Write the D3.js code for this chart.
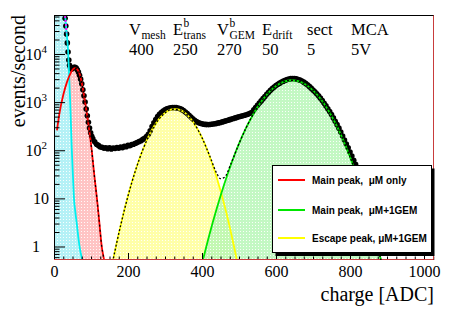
<!DOCTYPE html>
<html>
<head>
<meta charset="utf-8">
<script src="https://cdn.jsdelivr.net/npm/d3@7"></script>
<style>
body { margin: 0; background: #fff; }
svg { display: block; }
</style>
</head>
<body>
<div id="chart"></div>
<script>
// measured spectrum (black points)
var dataX = [28, 30, 32, 34, 36, 38, 40, 42, 45, 48, 51, 54, 57, 60, 63, 66, 69, 72, 75, 78, 81, 84, 87, 90, 93, 96, 99, 102, 105,
    110, 115, 120, 125, 130, 135, 140, 145, 150, 155, 160, 165, 170, 175, 180, 185, 190, 195, 200, 205, 210, 215, 220, 225,
    230, 235, 240, 245, 250, 255, 260, 265, 270, 275, 280, 285, 290, 295, 300, 305, 310, 315, 320, 325, 330, 335, 340, 345,
    350, 355, 360, 365, 370, 375, 380, 385, 390, 395, 400, 405, 410, 415, 420, 425, 430, 435, 440, 445, 450, 455, 460, 465,
    470, 475, 480, 485, 490, 495, 500, 505, 510, 515, 520, 525, 530, 535, 540, 545, 550, 555, 560, 565, 570, 575, 580, 585,
    590, 595, 600, 605, 610, 615, 620, 625, 630, 635, 640, 645, 650, 655, 660, 665, 670, 675, 680, 685, 690, 695, 700, 705,
    710, 715, 720, 725, 730, 735, 740, 745, 750, 755, 760, 765, 770, 775, 780, 785, 790, 795, 800, 805, 810, 815];
var dataY = [75000, 55000, 38000, 26000, 17000, 11000, 7500, 5800, 5000, 4900, 5100, 5300, 5300, 5100, 4700, 4200, 3600, 3000,
    2400, 1800, 1350, 1000, 720, 520, 380, 290, 230, 195, 172,
    150, 133, 126, 117, 115, 110, 113, 108, 112, 106, 111, 109, 114, 110, 117, 113, 121, 118, 126, 124, 131, 133, 140, 144,
    152, 158, 168, 178, 192, 215, 255, 310, 372, 435, 500, 555, 610, 655, 695, 725, 748, 762, 770, 772, 768, 755, 735, 705,
    668, 625, 578, 532, 488, 450, 420, 395, 378, 365, 355, 348, 344, 342, 343, 346, 350, 356, 362, 370, 378, 388, 398, 408,
    420, 432, 445, 458, 470, 482, 495, 508, 520, 533, 547, 563, 585, 612, 690, 770, 860, 960, 1060, 1180, 1310, 1450, 1600, 1760,
    1910, 2060, 2210, 2350, 2480, 2610, 2730, 2840, 2940, 3020, 3070, 3090, 3080, 3040, 2960, 2860, 2740, 2600, 2450, 2290,
    2120, 1950, 1790, 1640, 1490, 1350, 1210, 1080, 950, 835, 730, 635, 550, 470, 400, 340, 288, 240, 198, 163, 135, 112, 92,
    76, 62, 51];

// noise component (cyan)
var cyanX = [0, 10, 20, 26, 30, 34, 38, 41, 44, 48, 51, 54, 58, 62, 66, 70, 74, 78, 82];
var cyanY = [1e6, 5e5, 2e5, 1e5, 63000, 28000, 12000, 3500, 900, 110, 32, 10, 5, 2.8, 1.5, 0.9, 0.63, 0.47, 0.35];

// noise fit (magenta, only the top part is inside the frame)
var magentaX = [28, 31, 34];
var magentaY = [90000, 50000, 28000];

// main peak, uM only (red)
var redX = [8, 15, 25, 35, 45, 52, 57, 63, 70, 77, 84, 93, 102, 109, 116, 122, 129, 134, 140];
var redY = [260, 600, 1400, 2600, 4000, 4900, 5100, 4800, 3700, 2100, 1000, 350, 100, 30, 10, 3.5, 1, 0.6, 0.35];

// escape peak, uM+1GEM (yellow)
var yellowX = [150, 160, 170, 180, 190, 200, 210, 220, 230, 240, 250, 260, 270, 280, 290, 300, 310, 320, 330, 340, 350,
    360, 370, 380, 390, 400, 410, 420, 430, 440, 450, 460, 470, 480, 490, 500];
var yellowY = [0.22, 0.54, 1.24, 2.72, 5.65, 11.2, 21, 37.4, 63.4, 102, 156, 226, 311, 407, 506, 596, 668, 711, 718, 690, 628,
    544, 447, 348, 258, 182, 122, 77, 46.5, 26.6, 14.5, 7.5, 3.7, 1.7, 0.75, 0.31];

// main peak, uM+1GEM (green)
var greenX = [400, 420, 440, 460, 480, 500, 520, 540, 560, 580, 600, 620, 640, 660, 680, 700, 720, 740, 760, 780, 800,
    820, 840, 860, 880, 900];
var greenY = [0.44, 1.76, 6.2, 19.6, 55, 137, 301, 589, 1023, 1580, 2166, 2635, 2847, 2731, 2326, 1759, 1182, 705, 373,
    175, 73, 27, 8.8, 2.6, 0.68, 0.16];

// total two-peak fit (black dotted)
var sumX = [150, 160, 180, 200, 220, 240, 260, 280, 300, 320, 340, 360, 380, 400, 420, 440, 450, 460, 480, 500, 520, 540,
    560, 580, 600, 620, 640, 660, 680, 700, 720, 740, 760, 780, 800, 820, 840, 860, 880, 900];
var sumY = [0.22, 0.54, 2.72, 11.2, 37.4, 102, 226, 407, 596, 711, 690, 544, 348, 182, 79, 33, 25.7, 27.1, 56.7, 137, 301,
    589, 1023, 1580, 2166, 2635, 2847, 2731, 2326, 1759, 1182, 705, 373, 175, 73, 27, 8.8, 2.6, 0.68, 0.16];

// axes
var xTicks = [0, 200, 400, 600, 800, 1000];
var yTicks = [1, 10, 100, 1000, 10000];
var yTickBase = ["1", "10", "10", "10", "10"];
var yTickExp = ["", "", "2", "3", "4"];

// header
var headNames = ["V", "E", "V", "E", "sect", "MCA"];
var headSup = ["", "b", "b", "", "", ""];
var headSub = ["mesh", "trans", "GEM", "drift", "", ""];
var headValues = ["400", "250", "270", "50", "5", "5V"];

var legendLabels = ["Main peak,  \u03bcM only", "Main peak,  \u03bcM+1GEM", "Escape peak, \u03bcM+1GEM"];

var margin = { top: 15, right: 23, bottom: 51, left: 54 },
    width = 457 - margin.left - margin.right,
    height = 311 - margin.top - margin.bottom;

var serif = "'Liberation Serif', 'Times New Roman', serif";

var x = d3.scaleLinear().domain([0, 1027]).range([0, width]);
var y = d3.scaleLog().domain([0.524, 64600]).range([height, 0]);

var root = d3.select("#chart")
    .append("svg")
    .attr("width", 457)
    .attr("height", 311);

var defs = root.append("defs");
defs.append("clipPath").attr("id", "plotclip")
    .append("rect").attr("width", width).attr("height", height);

function addPattern(id, tint, opacity) {
    var p = defs.append("pattern")
        .attr("id", id)
        .attr("width", 3).attr("height", 3)
        .attr("patternUnits", "userSpaceOnUse");
    p.append("rect").attr("width", 3).attr("height", 3)
        .attr("fill", tint).attr("fill-opacity", opacity);
    p.append("rect").attr("width", 1).attr("height", 1)
        .attr("fill", "#fff").attr("fill-opacity", 0.9);
}
addPattern("patCyan", "#b4f1f6", 1);
addPattern("patRed", "#ffc4c4", 1);
addPattern("patYellow", "#ffffa8", 1);
addPattern("patGreen", "#b4f6b4", 0.8);

var svg = root.append("g")
    .attr("transform", "translate(" + margin.left + "," + margin.top + ")");

var plot = svg.append("g").attr("clip-path", "url(#plotclip)");

function pts(xs, ys) {
    return xs.map(function(v, i) { return [v, ys[i]]; });
}

var area = d3.area()
    .x(function(d) { return x(d[0]); })
    .y0(height)
    .y1(function(d) { return y(d[1]); })
    .curve(d3.curveMonotoneX);

var line = d3.line()
    .x(function(d) { return x(d[0]); })
    .y(function(d) { return y(d[1]); })
    .curve(d3.curveMonotoneX);

// filled components
plot.append("path").datum(pts(redX, redY)).attr("d", area).attr("fill", "url(#patRed)");
plot.append("path").datum(pts(cyanX, cyanY)).attr("d", area).attr("fill", "url(#patCyan)");
plot.append("path").datum(pts(yellowX, yellowY)).attr("d", area).attr("fill", "url(#patYellow)");
plot.append("path").datum(pts(greenX, greenY)).attr("d", area).attr("fill", "url(#patGreen)");

// data points
plot.selectAll("circle.data")
    .data(pts(dataX, dataY))
    .enter().append("circle")
    .attr("class", "data")
    .attr("cx", function(d) { return x(d[0]); })
    .attr("cy", function(d) { return y(d[1]); })
    .attr("r", 2.8)
    .attr("fill", "#000");

// component curves
var curves = [
    { xs: cyanX, ys: cyanY, color: "#00f0f0" },
    { xs: redX, ys: redY, color: "#ff0000" },
    { xs: yellowX, ys: yellowY, color: "#ffff00" },
    { xs: greenX, ys: greenY, color: "#00e600" }
];
curves.forEach(function(c) {
    plot.append("path").datum(pts(c.xs, c.ys))
        .attr("d", line)
        .attr("fill", "none")
        .attr("stroke", c.color)
        .attr("stroke-width", 1.8);
});

plot.append("path").datum(pts(magentaX, magentaY))
    .attr("d", line).attr("fill", "none")
    .attr("stroke", "#ff00ff").attr("stroke-width", 1.6)
    .attr("stroke-dasharray", "2,2");

// fit of the low peak drawn dotted over the red tail
plot.append("path").datum(pts(redX.slice(6), redY.slice(6)))
    .attr("d", line).attr("fill", "none")
    .attr("stroke", "#000").attr("stroke-width", 1.2)
    .attr("stroke-dasharray", "2,3");

// axes
svg.append("g")
    .attr("transform", "translate(0," + height + ")")
    .call(d3.axisBottom(x).tickValues(d3.range(0, 1027, 25)).tickSize(-3.5).tickFormat(""))
    .call(function(g) { g.select(".domain").remove(); });

var xAxis = svg.append("g")
    .attr("transform", "translate(0," + height + ")")
    .call(d3.axisBottom(x).tickValues(xTicks).tickSize(-7).tickPadding(5.5).tickFormat(d3.format("d")));
xAxis.select(".domain").remove();
xAxis.selectAll("text")
    .style("font-family", serif)
    .style("font-size", "16px")
    .attr("fill", "#000");

var yMinor = [];
[0.1, 1, 10, 100, 1000, 10000].forEach(function(d) {
    for (var k = 2; k < 10; k++) {
        var v = d * k;
        if (v > 0.524 && v < 64600) yMinor.push(v);
    }
});
svg.append("g")
    .call(d3.axisLeft(y).tickValues(yMinor).tickSize(-5.5).tickFormat(""))
    .call(function(g) { g.select(".domain").remove(); });
svg.append("g")
    .call(d3.axisLeft(y).tickValues(yTicks).tickSize(-11).tickFormat(""))
    .call(function(g) { g.select(".domain").remove(); });

var yLabelX = [-14, -5, -7, -7, -7];
yTicks.forEach(function(v, i) {
    var t = svg.append("text")
        .attr("x", yLabelX[i])
        .attr("y", y(v) + 6)
        .attr("text-anchor", "end")
        .style("font-family", serif)
        .style("font-size", "16px");
    t.append("tspan").text(yTickBase[i]);
    if (yTickExp[i]) t.append("tspan").attr("dy", -7).style("font-size", "11px").text(yTickExp[i]);
});

// frame
svg.append("rect")
    .attr("x", 0.5).attr("y", 0.5)
    .attr("width", width - 1).attr("height", height - 1)
    .attr("fill", "none").attr("stroke", "#000");
svg.append("path")
    .attr("d", "M0," + (height - 0.5) + "H" + (width - 0.5) + "V0.5")
    .attr("fill", "none").attr("stroke", "#c83c3c");

// axis titles
root.append("text")
    .attr("x", 434).attr("y", 301)
    .attr("text-anchor", "end")
    .style("font-family", serif).style("font-size", "20px")
    .text("charge [ADC]");
root.append("text")
    .attr("transform", "translate(25,15) rotate(-90)")
    .attr("text-anchor", "end")
    .style("font-family", serif).style("font-size", "20px")
    .text("events/second");

// header
var headX = [129, 173, 217, 262, 307, 351];
headNames.forEach(function(n, i) {
    var t = root.append("text")
        .attr("x", headX[i]).attr("y", 35)
        .style("font-family", serif).style("font-size", "16.5px")
        .text(n);
    var w = t.node().getComputedTextLength();
    if (headSup[i]) {
        root.append("text").attr("x", headX[i] + w + 0.5).attr("y", 27)
            .style("font-family", serif).style("font-size", "11.5px").text(headSup[i]);
    }
    if (headSub[i]) {
        root.append("text").attr("x", headX[i] + w + 0.5).attr("y", 38.5)
            .style("font-family", serif).style("font-size", "11.5px").text(headSub[i]);
    }
    root.append("text")
        .attr("x", headX[i]).attr("y", 55)
        .style("font-family", serif).style("font-size", "16.5px")
        .text(headValues[i]);
});

// legend
var lg = root.append("g");
lg.append("rect").attr("x", 275.5).attr("y", 168.5).attr("width", 159).attr("height", 87.5).attr("fill", "#000");
lg.append("rect").attr("x", 272.5).attr("y", 165.5).attr("width", 159).attr("height", 87)
    .attr("fill", "#fff").attr("stroke", "#000");
var legendColors = ["#ff0000", "#00e600", "#ffff00"];
var legendY = [180, 210, 238];
legendLabels.forEach(function(l, i) {
    lg.append("line")
        .attr("x1", 278).attr("x2", 305)
        .attr("y1", legendY[i]).attr("y2", legendY[i])
        .attr("stroke", legendColors[i]).attr("stroke-width", 2);
    lg.append("text")
        .attr("x", 312).attr("y", legendY[i] + 3.6)
        .style("font-family", "'Liberation Sans', Arial, sans-serif")
        .style("font-weight", "bold").style("font-size", "10px")
        .attr("xml:space", "preserve")
        .text(l);
});

// two-peak fit, drawn last (it crosses the legend)
svg.append("g").attr("clip-path", "url(#plotclip)")
    .append("path").datum(pts(sumX, sumY))
    .attr("d", line).attr("fill", "none")
    .attr("stroke", "#000").attr("stroke-width", 1.3)
    .attr("stroke-dasharray", "2,2");
</script>
</body>
</html>
